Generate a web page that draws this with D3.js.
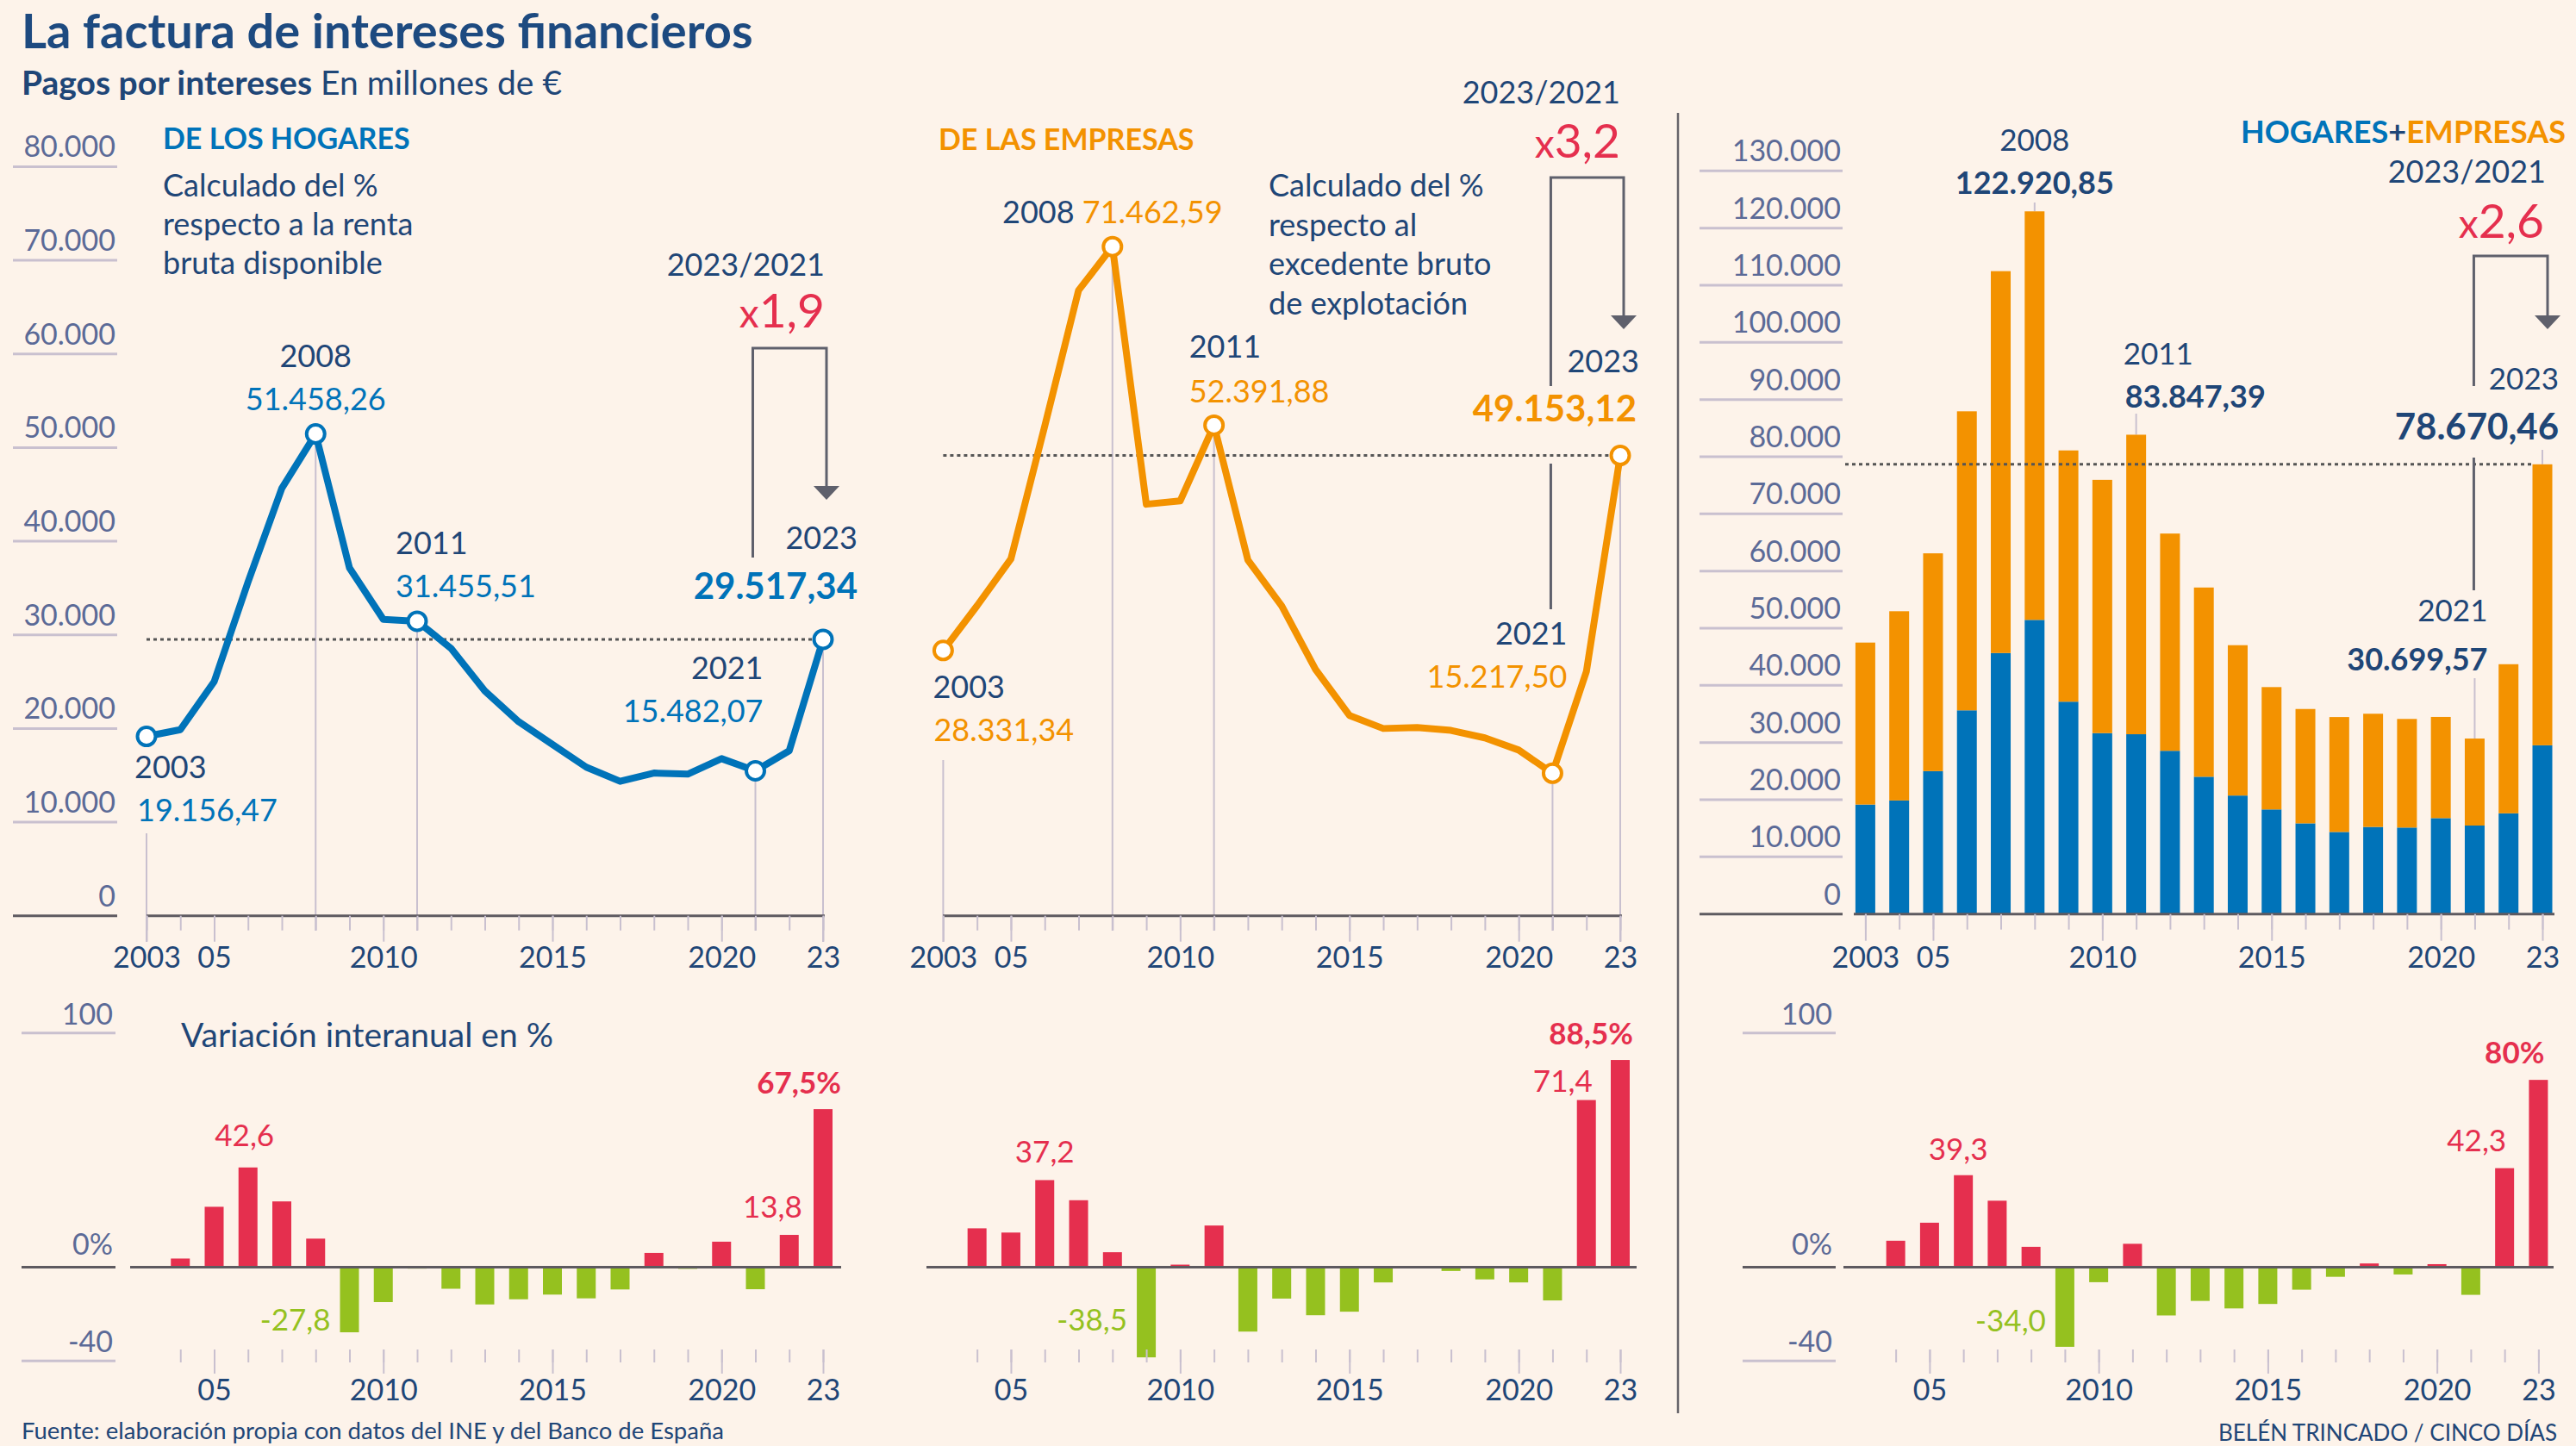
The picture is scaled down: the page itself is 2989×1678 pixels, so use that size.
<!DOCTYPE html>
<html><head><meta charset="utf-8">
<script src="https://cdn.jsdelivr.net/npm/d3@7"></script>
<style>
body{margin:0;background:#fdf3ea;}
svg{display:block;font-family:Lato,"Noto Sans",sans-serif;}
</style>
</head><body>
<svg id="c" width="2989" height="1678"></svg>
<script>
// ---------------- DATA ----------------
const years = [2003,2004,2005,2006,2007,2008,2009,2010,2011,2012,2013,2014,2015,2016,2017,2018,2019,2020,2021,2022,2023];
// Pagos por intereses de los hogares (millones de €)
const hogares = [19156.47,19870,25000,35640,45660,51458.26,37150,31650,31455.51,28560,24020,20730,18300,15870,14360,15240,15130,16780,15482.07,17619,29517.34];
// Pagos por intereses de las empresas (millones de €)
const empresas = [28331.34,33100,38100,52300,66800,71462.59,43950,44300,52391.88,38000,33100,26300,21400,20000,20100,19800,19000,17700,15217.50,26083,49153.12];
// Variación interanual en % (2004-2023)
const pctYears = [2004,2005,2006,2007,2008,2009,2010,2011,2012,2013,2014,2015,2016,2017,2018,2019,2020,2021,2022,2023];
const pctHogares = [3.7,25.8,42.6,28.1,12.2,-27.8,-14.9,-0.6,-9.2,-15.9,-13.7,-11.7,-13.3,-9.5,6.1,-0.7,10.9,-9.4,13.8,67.5];
const pctEmpresas = [16.6,14.8,37.2,28.6,6.4,-38.5,1.1,17.8,-27.5,-13.4,-20.5,-19.0,-6.5,0.2,-1.6,-5.2,-6.5,-14.2,71.4,88.5];
const pctTotal = [11.3,19.0,39.3,28.4,8.7,-34.0,-6.4,10.0,-20.6,-14.4,-17.6,-15.7,-9.6,-4.1,1.6,-3.1,1.3,-11.8,42.3,80.0];
// Ticks
const lineTicks = [0,10000,20000,30000,40000,50000,60000,70000,80000];
const barTicks = [0,10000,20000,30000,40000,50000,60000,70000,80000,90000,100000,110000,120000,130000];
const pctTicks = [-40,0,100];
const majorYears = [2003,2005,2010,2015,2020,2023];
const majorLabels = ["2003","05","2010","2015","2020","23"];
const pctMajorYears = [2005,2010,2015,2020,2023];
const pctMajorLabels = ["05","2010","2015","2020","23"];

// ---------------- STYLE ----------------
const NAVY="#1f4677", TITLE="#1d4a80", SLATE="#5b6a97", BLUE="#0073b9", ORANGE="#f39200",
      RED="#e52f4e", GREEN="#95c11f", LAV="#c9c0cf", AXIS="#5e5a60", GREY="#5f606c";

const es = d3.formatLocale({decimal:",",thousands:".",grouping:[3],currency:["","€"],minus:"-"});
const f2 = es.format(",.2f"), fInt = es.format(",d"), f1 = es.format(".1f"), f0 = es.format(".0f");

const svg = d3.select("#c");
svg.append("rect").attr("width",2989).attr("height",1678).attr("fill","#fdf3ea");

function T(g,x,y,parts,o={}){
  const t=g.append("text").attr("x",x).attr("y",y)
    .attr("text-anchor",o.anchor||"start").attr("font-size",o.size||34)
    .attr("font-weight",o.weight||400).attr("fill",o.fill||NAVY);
  if(typeof parts==="string") t.text(parts);
  else parts.forEach(p=>{const s=t.append("tspan").text(p[0]); if(p[1]) for(const k in p[1]) s.attr(k,p[1][k]);});
  return t;
}
function L(g,x1,y1,x2,y2,c,w,dash){
  const l=g.append("line").attr("x1",x1).attr("y1",y1).attr("x2",x2).attr("y2",y2)
    .attr("stroke",c).attr("stroke-width",w);
  if(dash) l.attr("stroke-dasharray",dash);
  return l;
}
function bracket(g,xl,xr,yTop,yLB,tip){
  g.append("path").attr("d",`M${xl},${yLB}V${yTop}H${xr}V${tip-14}`)
    .attr("fill","none").attr("stroke",GREY).attr("stroke-width",3);
  g.append("path").attr("d",`M${xr-15},${tip-16}L${xr+15},${tip-16}L${xr},${tip}Z`).attr("fill",GREY);
}
function yLabels(g,scale,ticks,x0,x1,fmt,zeroDark){
  ticks.forEach(v=>{
    L(g,x0,scale(v),x1,scale(v),(v===0&&zeroDark)?AXIS:LAV,3);
    T(g,x1-2,scale(v)-11,fmt(v),{anchor:"end",size:34,fill:SLATE});
  });
}
function styleAxis(sel){
  sel.select(".domain").remove();
  sel.selectAll(".tick line").attr("stroke",LAV).attr("stroke-width",2);
  sel.selectAll(".tick text").attr("font-size",34).attr("fill",NAVY)
     .attr("font-family","Lato,'Noto Sans',sans-serif");
  sel.attr("font-family",null).attr("font-size",null);
}
function yearAxis(g,x,y0,ticks,majors,labels,minorLen,majorLen,labelBase){
  g.append("g").attr("transform",`translate(0,${y0})`)
    .call(d3.axisBottom(x).tickValues(ticks).tickSize(minorLen).tickFormat(""))
    .call(styleAxis);
  g.append("g").attr("transform",`translate(0,${y0})`)
    .call(d3.axisBottom(x).tickValues(majors).tickSize(majorLen)
      .tickPadding(labelBase-y0-majorLen-24.1).tickFormat((d,i)=>labels[i]))
    .call(styleAxis);
}

// ---------------- TITLES ----------------
T(svg,25,56,"La factura de intereses financieros",{size:56,weight:700,fill:TITLE});
T(svg,25,110,[["Pagos por intereses",{"font-weight":700}],[" En millones de €"]],{size:39,fill:NAVY});

// ---------------- LINE PANELS ----------------
const yLine = d3.scaleLinear().domain([0,80000]).range([1062.7,193.4]);
const yPct = d3.scaleLinear().domain([-40,100]).range([1579.2,1198.8]);
const Y0 = yLine(0);
const idx = yr => years.indexOf(yr);

function linePanel(g,x,data,color,ax0,ax1){
  const v = yr => data[idx(yr)];
  [[2008,1080],[2011,1080],[2021,1080],[2023,1093]].forEach(([yr,b])=>L(g,x(yr),yLine(v(yr)),x(yr),b,LAV,2));
  L(g,x(2003),yLine(v(2023)),x(2023)-10,yLine(v(2023)),"#555",3,"4,4");
  L(g,ax0,Y0,ax1,Y0,AXIS,3);
  yearAxis(g,x,Y0,years,majorYears,majorLabels,17,30,1123);
  const rows = years.map((yr,i)=>({yr,v:data[i]}));
  g.append("path").datum(rows).attr("fill","none").attr("stroke",color).attr("stroke-width",8)
    .attr("stroke-linejoin","round").attr("stroke-linecap","round")
    .attr("d",d3.line().x(d=>x(d.yr)).y(d=>yLine(d.v)));
  g.selectAll("circle.pt").data([2003,2008,2011,2021,2023]).join("circle").attr("class","pt")
    .attr("cx",d=>x(d)).attr("cy",d=>yLine(v(d))).attr("r",10.5)
    .attr("fill","#fff").attr("stroke",color).attr("stroke-width",4);
  return v;
}
function pctPanel(g,x,data,z0,z1){
  g.selectAll("rect.pb").data(pctYears.map((yr,i)=>({yr,v:data[i]}))).join("rect").attr("class","pb")
    .attr("x",d=>x(d.yr)-11).attr("width",22)
    .attr("y",d=>yPct(Math.max(0,d.v))).attr("height",d=>Math.abs(yPct(d.v)-yPct(0)))
    .attr("fill",d=>d.v>=0?RED:GREEN);
  L(g,z0,yPct(0),z1,yPct(0),AXIS,3);
  yearAxis(g,x,1566,pctYears,pctMajorYears,pctMajorLabels,15,28,1625);
}
function pctLabels(g,x0,x1,xl){
  pctTicks.forEach(v=>{
    L(g,x0,yPct(v),x1,yPct(v),v===0?AXIS:LAV,3);
    T(g,xl,yPct(v)-(v===0?15:10),v===0?"0%":String(v),{anchor:"end",size:34,fill:SLATE});
  });
}
const pv = (data,yr)=>data[pctYears.indexOf(yr)];

// ===== Panel 1: hogares =====
const g1 = svg.append("g");
const x1 = d3.scaleLinear().domain([2003,2023]).range([170,955]);
yLabels(g1,yLine,lineTicks,15,136,fInt,true);
L(g1,x1(2003),967,x1(2003),1093,LAV,2);
const h = linePanel(g1,x1,hogares,BLUE,170,957);
T(g1,189,173,"DE LOS HOGARES",{size:34,weight:700,fill:BLUE});
["Calculado del %","respecto a la renta","bruta disponible"].forEach((s,i)=>T(g1,189,228+i*45,s,{size:36,fill:NAVY}));
T(g1,x1(2008),yLine(h(2008))-78,"2008",{anchor:"middle",size:36});
T(g1,x1(2008),yLine(h(2008))-28,f2(h(2008)),{anchor:"middle",size:36,fill:BLUE});
T(g1,x1(2011)-25,yLine(h(2011))-78,"2011",{size:36});
T(g1,x1(2011)-25,yLine(h(2011))-28,f2(h(2011)),{size:36,fill:BLUE});
T(g1,x1(2003)-14,yLine(h(2003))+48,"2003",{size:36});
T(g1,x1(2003)-11,yLine(h(2003))+98,f2(h(2003)),{size:36,fill:BLUE});
T(g1,x1(2021)+9,yLine(h(2021))-106,"2021",{anchor:"end",size:36});
T(g1,x1(2021)+9,yLine(h(2021))-56,f2(h(2021)),{anchor:"end",size:36,fill:BLUE});
T(g1,x1(2023)+40,637,"2023",{anchor:"end",size:36});
T(g1,x1(2023)+40,695,f2(h(2023)),{anchor:"end",size:42,weight:700,fill:BLUE});
T(g1,957,320,"2023/2021",{anchor:"end",size:36});
T(g1,957,380,[["x",{"font-size":46}],[f1(h(2023)/h(2021)),{"font-size":55}]],{anchor:"end",fill:RED});
bracket(g1,x1(2021)-3,x1(2023)+4,404,647,580);
pctPanel(g1,x1,pctHogares,151,976);
pctLabels(g1,25,134,131);
T(g1,210,1215,"Variación interanual en %",{size:39});
T(g1,x1(2006)-4,yPct(pv(pctHogares,2006))-25,f1(pv(pctHogares,2006)),{anchor:"middle",size:35,fill:RED});
T(g1,x1(2009)-22,1544,f1(pv(pctHogares,2009)),{anchor:"end",size:35,fill:GREEN});
T(g1,x1(2022)+15,yPct(pv(pctHogares,2022))-20,f1(pv(pctHogares,2022)),{anchor:"end",size:35,fill:RED});
T(g1,x1(2023)+21,yPct(pv(pctHogares,2023))-18,f1(pv(pctHogares,2023))+"%",{anchor:"end",size:35,weight:700,fill:RED});

// ===== Panel 2: empresas =====
const g2 = svg.append("g");
const x2 = d3.scaleLinear().domain([2003,2023]).range([1094.4,1880]);
L(g2,x2(2003),882,x2(2003),1093,LAV,2);
const e = linePanel(g2,x2,empresas,ORANGE,1094,1882);
T(g2,1089,174,"DE LAS EMPRESAS",{size:34,weight:700,fill:ORANGE});
["Calculado del %","respecto al","excedente bruto","de explotación"].forEach((s,i)=>T(g2,1472,228+i*45.5,s,{size:36,fill:NAVY}));
T(g2,x2(2008),yLine(e(2008))-27,[["2008 ",{fill:NAVY}],[f2(e(2008)),{fill:ORANGE}]],{anchor:"middle",size:36});
T(g2,x2(2011)-29,yLine(e(2011))-78,"2011",{size:36});
T(g2,x2(2011)-29,yLine(e(2011))-26,f2(e(2011)),{size:36,fill:ORANGE});
T(g2,x2(2003)-12,yLine(e(2003))+55,"2003",{size:36});
T(g2,x2(2003)-11,yLine(e(2003))+105,f2(e(2003)),{size:36,fill:ORANGE});
T(g2,x2(2021)+17,748,"2021",{anchor:"end",size:36});
T(g2,x2(2021)+17,798,f2(e(2021)),{anchor:"end",size:36,fill:ORANGE});
T(g2,x2(2023)+22,432,"2023",{anchor:"end",size:36});
T(g2,x2(2023)+19,489,f2(e(2023)),{anchor:"end",size:42,weight:700,fill:ORANGE});
T(g2,1880,120,"2023/2021",{anchor:"end",size:36});
T(g2,1880,183,[["x",{"font-size":46}],[f1(e(2023)/e(2021)),{"font-size":55}]],{anchor:"end",fill:RED});
bracket(g2,x2(2021)-2,x2(2023)+4,206,448,382);
L(g2,x2(2021)-2,538,x2(2021)-2,707,GREY,3);
pctPanel(g2,x2,pctEmpresas,1075,1899);
T(g2,x2(2006),yPct(pv(pctEmpresas,2006))-20,f1(pv(pctEmpresas,2006)),{anchor:"middle",size:35,fill:RED});
T(g2,x2(2009)-22,1544,f1(pv(pctEmpresas,2009)),{anchor:"end",size:35,fill:GREEN});
T(g2,x2(2022)+7,yPct(pv(pctEmpresas,2022))-10,f1(pv(pctEmpresas,2022)),{anchor:"end",size:35,fill:RED});
T(g2,x2(2023)+15,yPct(pv(pctEmpresas,2023))-18,f1(pv(pctEmpresas,2023))+"%",{anchor:"end",size:35,weight:700,fill:RED});

// separator
L(svg,1947,131,1947,1640,"#67646a",2.5);

// ===== Panel 3: hogares + empresas =====
const g3 = svg.append("g");
const x3 = d3.scaleLinear().domain([2003,2023]).range([2164.4,2950]);
const x3p = d3.scaleLinear().domain([2003,2023]).range([2160.4,2945.4]);
const yBar = d3.scaleLinear().domain([0,130000]).range([1060.7,198.3]);
yLabels(g3,yBar,barTicks,1972,2138,fInt,true);
const table = years.map((yr,i)=>({year:yr,hogares:hogares[i],empresas:empresas[i]}));
const total = yr => hogares[idx(yr)]+empresas[idx(yr)];
[[2008,235],[2011,480],[2023,522],[2021,787]].forEach(([yr,top])=>L(g3,x3(yr),top,x3(yr),yBar(total(yr)),LAV,2));
const stack = d3.stack().keys(["hogares","empresas"])(table);
g3.selectAll("g.s").data(stack).join("g").attr("class","s")
  .attr("fill",d=>d.key==="hogares"?BLUE:ORANGE)
  .selectAll("rect").data(d=>d).join("rect")
  .attr("x",d=>x3(d.data.year)-11.5).attr("width",23)
  .attr("y",d=>yBar(d[1])).attr("height",d=>yBar(d[0])-yBar(d[1]));
L(g3,2141,yBar(total(2023)),x3(2023)-12,yBar(total(2023)),"#555",3,"4,4");
L(g3,2151,yBar(0),2964,yBar(0),AXIS,3);
yearAxis(g3,x3,yBar(0),years,majorYears,majorLabels,18,31,1123);
T(g3,2977,166,[["HOGARES",{fill:BLUE}],["+",{fill:NAVY}],["EMPRESAS",{fill:ORANGE}]],{anchor:"end",size:36,weight:700});
T(g3,x3(2008),174.6,"2008",{anchor:"middle",size:35});
T(g3,x3(2008),225,f2(total(2008)),{anchor:"middle",size:36,weight:700,fill:NAVY});
T(g3,x3(2011)-15,423,"2011",{size:35});
T(g3,x3(2011)-13,473,f2(total(2011)),{size:36,weight:700,fill:NAVY});
T(g3,x3(2023)+19,452,"2023",{anchor:"end",size:35});
T(g3,x3(2023)+19,510,f2(total(2023)),{anchor:"end",size:42,weight:700,fill:NAVY});
T(g3,x3(2021)+15,721,"2021",{anchor:"end",size:35});
T(g3,x3(2021)+15,778,f2(total(2021)),{anchor:"end",size:36,weight:700,fill:NAVY});
T(g3,2954,212,"2023/2021",{anchor:"end",size:36});
T(g3,2952,276,[["x",{"font-size":46}],[f1(total(2023)/total(2021)),{"font-size":55}]],{anchor:"end",fill:RED});
bracket(g3,x3(2021)-1,x3(2023)+6,297,448,382);
L(g3,x3(2021)-1,531,x3(2021)-1,685,GREY,3);
pctPanel(g3,x3p,pctTotal,2139,2963);
pctLabels(g3,2022,2130,2126);
T(g3,x3p(2006)-6,yPct(pv(pctTotal,2006))-18,f1(pv(pctTotal,2006)),{anchor:"middle",size:35,fill:RED});
T(g3,x3p(2009)-22,1545,f1(pv(pctTotal,2009)),{anchor:"end",size:35,fill:GREEN});
T(g3,x3p(2022)+2,yPct(pv(pctTotal,2022))-20,f1(pv(pctTotal,2022)),{anchor:"end",size:35,fill:RED});
T(g3,x3p(2023)+7,yPct(pv(pctTotal,2023))-19,f0(pv(pctTotal,2023))+"%",{anchor:"end",size:35,weight:700,fill:RED});

// ---------------- FOOTER ----------------
T(svg,25,1670,"Fuente: elaboración propia con datos del INE y del Banco de España",{size:27.5,fill:NAVY});
T(svg,2967,1672,"BELÉN TRINCADO / CINCO DÍAS",{anchor:"end",size:26,fill:NAVY});
</script>
</body></html>
